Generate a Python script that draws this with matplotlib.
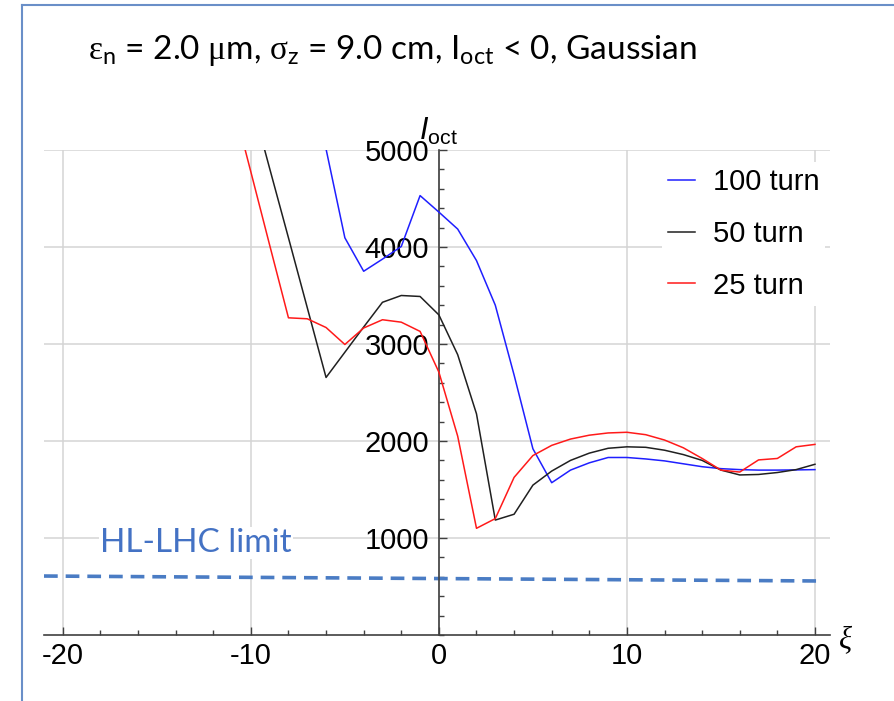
import matplotlib
matplotlib.use("Agg")
import matplotlib.pyplot as plt
from matplotlib.ticker import MultipleLocator
import matplotlib.lines as mlines

# octupole threshold vs chromaticity
xi_25 = list(range(-11, 21))
ioct_25 = [5525, 4775, 4020, 3270, 3260, 3170, 2995, 3165, 3250, 3225, 3130,
           2710, 2050, 1100, 1200, 1625, 1850, 1955, 2020, 2060, 2083, 2090,
           2065, 2010, 1930, 1820, 1700, 1680, 1805, 1820, 1940, 1965]

xi_50 = list(range(-10, 21))
ioct_50 = [5530, 4810, 4095, 3375, 2655, 2915, 3175, 3430, 3500, 3490, 3300,
           2890, 2280, 1185, 1245, 1545, 1690, 1800, 1875, 1925, 1940, 1935,
           1905, 1860, 1800, 1700, 1650, 1655, 1675, 1705, 1760]

xi_100 = list(range(-7, 21))
ioct_100 = [5900, 5010, 4095, 3750, 3875, 4005, 4530, 4360, 4185, 3860, 3400,
            2680, 1920, 1570, 1700, 1775, 1830, 1830, 1815, 1795, 1765, 1735,
            1715, 1705, 1700, 1700, 1702, 1705]

# HL-LHC limit line (hand drawn on the slide)
limit_xi = [-21.0, 20.1]
limit_ioct = [608, 557]

x_major = [-20, -10, 0, 10, 20]
y_major = [1000, 2000, 3000, 4000, 5000]

plt.rcParams["font.family"] = ["Liberation Sans", "DejaVu Sans"]
plt.rcParams["mathtext.fontset"] = "custom"
plt.rcParams["mathtext.rm"] = "Liberation Serif"
plt.rcParams["mathtext.it"] = "Liberation Sans:italic"
plt.rcParams["axes.unicode_minus"] = False

W, H = 894, 701
fig = plt.figure(figsize=(W / 100, H / 100), dpi=100)
ax = fig.add_axes([44 / W, 1 - 635 / H, (830 - 44) / W, (635 - 150) / H])

ax.plot(xi_100, ioct_100, color="#1f1fff", lw=1.1, label="100 turn", zorder=3)
ax.plot(xi_50, ioct_50, color="#202020", lw=1.1, label="50 turn", zorder=3)
ax.plot(xi_25, ioct_25, color="#ff1a1a", lw=1.1, label="25 turn", zorder=3)

ax.set_xlim(-21.0, 20.8)
ax.set_ylim(0, 5000)

ax.spines["left"].set_position(("data", 0))
ax.spines["bottom"].set_position(("data", 0))
ax.spines["top"].set_visible(False)
ax.spines["right"].set_visible(False)
for s in ("left", "bottom"):
    ax.spines[s].set_color("#404040")
    ax.spines[s].set_linewidth(1.2)

ax.set_xticks(x_major)
ax.set_yticks(y_major)
ax.xaxis.set_minor_locator(MultipleLocator(2))
ax.yaxis.set_minor_locator(MultipleLocator(200))
ax.tick_params(which="both", direction="in", color="#404040", width=1.0,
               labelsize=21)
ax.tick_params(which="major", length=6)
ax.tick_params(which="minor", length=3.5)
ax.tick_params(axis="x", pad=5)
ax.tick_params(axis="y", pad=7)
ax.grid(True, color="#d4d4d4", lw=1.1, zorder=0)

leg = ax.legend(loc="upper left", bbox_to_anchor=(662 / W, 1 - 162 / H),
                bbox_transform=fig.transFigure, fontsize=21, frameon=True,
                fancybox=False, edgecolor="none", facecolor="white",
                framealpha=1, borderpad=0.2, borderaxespad=0,
                handlelength=0.92, handletextpad=0.62, labelspacing=0.82)
leg.set_zorder(4)

# Ioct label on top of the vertical axis
ax.annotate(r"$I_\mathregular{oct}$", xy=(0, 5000), xycoords="data",
            xytext=(0, 2), textcoords="offset points", ha="center",
            va="bottom", fontsize=22)
fig.text(845 / W, 1 - 640 / H, "ξ", family="Liberation Serif",
         style="italic", fontsize=22, ha="center", va="center")

# limit line and its label
ax.plot(limit_xi, limit_ioct, color="#4a7cc4", lw=2.6, dashes=(3.8, 2.2),
        clip_on=False, zorder=2)
fig.text(100 / W, 1 - 543 / H, "HL-LHC limit", family=["Lato", "DejaVu Sans"],
         color="#4472c4", fontsize=24, ha="left", va="center",
         bbox=dict(facecolor="white", edgecolor="none", pad=1))

fig.text(88 / W, 1 - 50 / H,
         r"$\mathrm{\varepsilon}_\mathregular{n}$ = 2.0 $\mathrm{\mu}$m, "
         r"$\mathrm{\sigma}_\mathregular{z}$ = 9.0 cm, "
         r"I$_\mathregular{oct}$ < 0, Gaussian",
         family=["Lato", "DejaVu Sans"], fontsize=24, ha="left", va="center")

# slide frame
frame_col = "#6a8fc8"
fig.add_artist(mlines.Line2D([22 / W, 1], [1 - 5 / H, 1 - 5 / H],
                             color=frame_col, lw=1.5))
fig.add_artist(mlines.Line2D([22 / W, 22 / W], [0, 1 - 5 / H],
                             color=frame_col, lw=1.5))

fig.savefig("out.png", dpi=100)
